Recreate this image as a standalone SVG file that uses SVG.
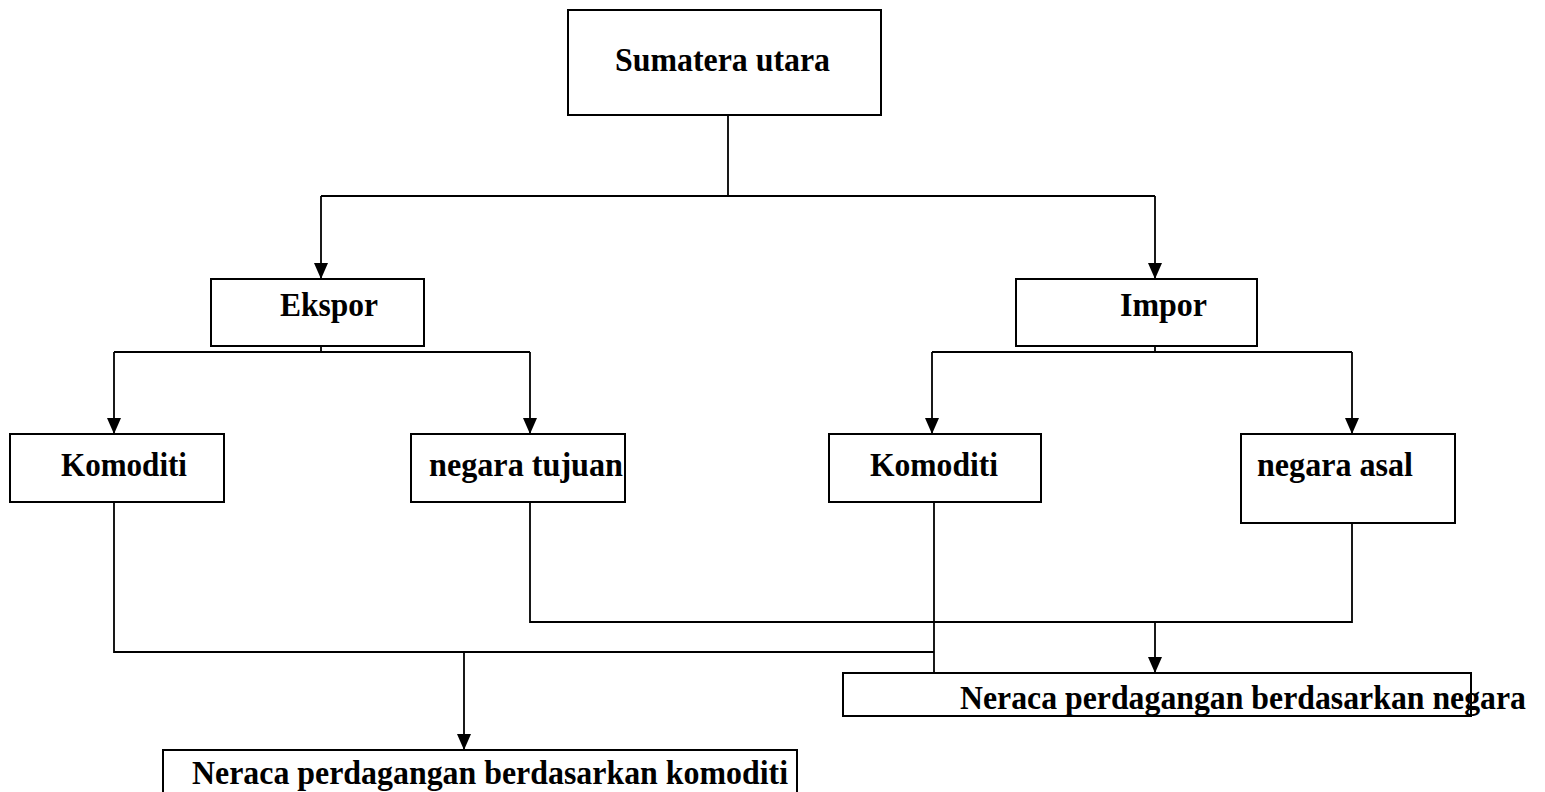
<svg xmlns="http://www.w3.org/2000/svg" width="1545" height="792" viewBox="0 0 1545 792">
<style>
.box{fill:#fff;stroke:#000;stroke-width:2}
.lbl{font-family:"Liberation Serif","Times New Roman",serif;font-weight:bold;font-size:33px;fill:#000}
.ln{fill:none;stroke:#000;stroke-width:1.8}
.ar{fill:none;stroke:#000;stroke-width:1.8;marker-end:url(#ah)}
</style>
<defs>
<marker id="ah" viewBox="0 0 16 14" refX="16" refY="7" markerWidth="16" markerHeight="14" orient="auto" markerUnits="userSpaceOnUse">
<path d="M0,0 L16,7 L0,14 z" fill="#000"/>
</marker>
</defs>
<rect width="1545" height="792" fill="#fff"/>
<g id="connectors">
<path class="ln" d="M728,115 V196 M321,196 H1155"/>
<path class="ar" d="M321,196 V279"/>
<path class="ar" d="M1155,196 V279"/>
<path class="ln" d="M321,346 V352 M114,352 H530"/>
<path class="ar" d="M114,352 V434"/>
<path class="ar" d="M530,352 V434"/>
<path class="ln" d="M1155,346 V352 M932,352 H1352"/>
<path class="ar" d="M932,352 V434"/>
<path class="ar" d="M1352,352 V434"/>
<path class="ln" d="M114,502 V652 H934"/>
<path class="ln" d="M934,502 V673"/>
<path class="ln" d="M530,502 V622 H1352 V523"/>
<path class="ar" d="M1155,622 V673"/>
<path class="ar" d="M464,652 V750"/>
</g>
<g id="sumatera"><rect class="box" x="568" y="10" width="313" height="105"/><text class="lbl" x="615" y="71" textLength="215" lengthAdjust="spacingAndGlyphs">Sumatera utara</text></g>
<g id="ekspor"><rect class="box" x="211" y="279" width="213" height="67"/><text class="lbl" x="280" y="316" textLength="98" lengthAdjust="spacingAndGlyphs">Ekspor</text></g>
<g id="impor"><rect class="box" x="1016" y="279" width="241" height="67"/><text class="lbl" x="1120" y="316" textLength="87" lengthAdjust="spacingAndGlyphs">Impor</text></g>
<g id="komoditi-ekspor"><rect class="box" x="10" y="434" width="214" height="68"/><text class="lbl" x="61" y="476" textLength="126" lengthAdjust="spacingAndGlyphs">Komoditi</text></g>
<g id="negara-tujuan"><rect class="box" x="411" y="434" width="214" height="68"/><text class="lbl" x="429" y="476" textLength="194" lengthAdjust="spacingAndGlyphs">negara tujuan</text></g>
<g id="komoditi-impor"><rect class="box" x="829" y="434" width="212" height="68"/><text class="lbl" x="870" y="476" textLength="128" lengthAdjust="spacingAndGlyphs">Komoditi</text></g>
<g id="negara-asal"><rect class="box" x="1241" y="434" width="214" height="89"/><text class="lbl" x="1257" y="476" textLength="156" lengthAdjust="spacingAndGlyphs">negara asal</text></g>
<g id="neraca-negara"><rect class="box" x="843" y="673" width="628" height="43"/><text class="lbl" x="960" y="709" textLength="566" lengthAdjust="spacingAndGlyphs">Neraca perdagangan berdasarkan negara</text></g>
<g id="neraca-komoditi"><rect class="box" x="163" y="750" width="634" height="52"/><text class="lbl" x="192" y="784" textLength="596" lengthAdjust="spacingAndGlyphs">Neraca perdagangan berdasarkan komoditi</text></g>
</svg>
